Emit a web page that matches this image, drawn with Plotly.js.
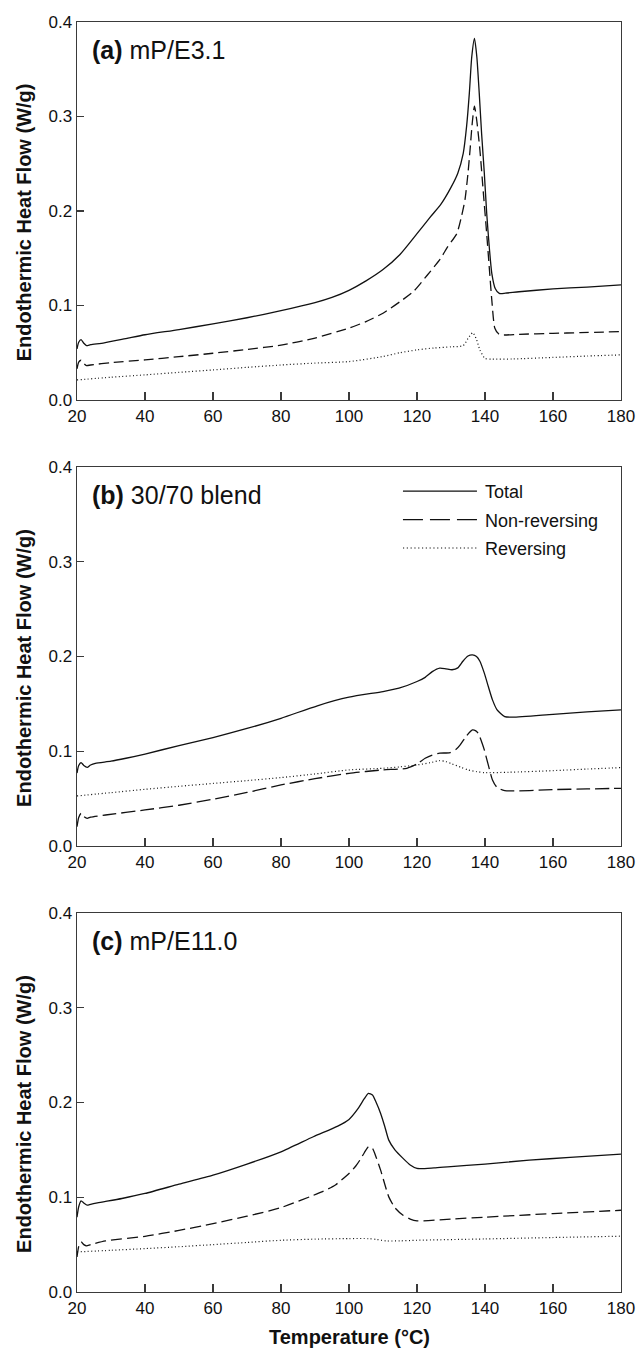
<!DOCTYPE html>
<html>
<head>
<meta charset="utf-8">
<script src="https://cdn.plot.ly/plotly-3.0.1.min.js"></script>
<style>
  html, body { margin: 0; padding: 0; background: #fff; }
  #chart { width: 638px; height: 1350px; }
</style>
</head>
<body>
<div id="chart"></div>
<script>
// ---------- Data (temperature °C, heat flow W/g) ----------
// Panel (a) mP/E3.1
const aTotalT = [20.0,20.5,21.2,22.0,22.8,24,28,35,40,50,60,70,80,90,95,100,105,110,115,120,124,127,130,132,133.6,134.6,135.4,136.1,136.9,137.6,138.3,139.0,139.8,140.5,141.3,142.0,143.0,144.2,146,150,160,170,180];
const aTotalQ = [0.054,0.061,0.0638,0.060,0.0575,0.0585,0.0605,0.0655,0.069,0.0745,0.0805,0.087,0.0945,0.103,0.1085,0.116,0.126,0.138,0.154,0.176,0.194,0.207,0.225,0.240,0.261,0.290,0.325,0.363,0.3827,0.363,0.325,0.282,0.240,0.1976,0.160,0.134,0.118,0.1128,0.113,0.1145,0.1175,0.1195,0.1218];
const aNonRevT = [20.0,20.5,21.2,22.0,22.8,24,30,40,50,60,70,80,90,100,105,110,115,119,123,126.8,129,131.7,133,134.1,135.0,135.6,136.3,136.9,137.6,138.5,139.5,140.5,141.3,142.0,142.9,144,145.4,150,160,168,180];
const aNonRevQ = [0.033,0.040,0.042,0.0385,0.0364,0.037,0.0395,0.0424,0.0458,0.0494,0.0535,0.058,0.0655,0.076,0.083,0.0918,0.104,0.115,0.132,0.149,0.162,0.176,0.193,0.2116,0.240,0.2646,0.295,0.311,0.295,0.2646,0.220,0.176,0.138,0.1058,0.0758,0.070,0.0688,0.0695,0.0705,0.0712,0.0724];
const aRevT = [20,30,40,50,60,70,80,90,100,110,115,120,125,130,133.6,135,136.4,137.5,138.5,140,142,148.3,160,170,180];
const aRevQ = [0.0212,0.024,0.0265,0.0292,0.0318,0.0345,0.037,0.039,0.0406,0.046,0.050,0.053,0.055,0.0562,0.0575,0.065,0.0712,0.064,0.0529,0.044,0.0432,0.0434,0.045,0.0465,0.0477];

// Panel (b) 30/70 blend
const bTotalT = [20.0,20.5,21.2,22.0,23.0,24,25.4,30,34.4,40,50,60,70,80,90.7,100,110,114.7,120,122.4,124.5,126.7,128.5,130.3,132.0,133.5,135.0,136.3,137.5,138.5,139.8,141,142.2,143.5,145.8,148.2,160,170,180];
const bTotalQ = [0.077,0.085,0.088,0.085,0.083,0.0855,0.0873,0.0895,0.0926,0.097,0.106,0.1144,0.124,0.1348,0.148,0.157,0.163,0.1665,0.1736,0.178,0.184,0.1877,0.187,0.186,0.188,0.195,0.2005,0.2017,0.200,0.195,0.1824,0.168,0.1542,0.144,0.1366,0.1359,0.139,0.1415,0.1436];
const bNonRevT = [20.0,20.5,21.2,22.0,23.0,24,28.4,40,50,60,70,80,90,100,110,117,120,122.4,124.5,126.7,129.7,131.5,132.7,134.5,136.3,137.3,138,139,139.8,141,142.2,143.5,145.8,160,170,180];
const bNonRevQ = [0.0204,0.030,0.0345,0.031,0.0292,0.0305,0.0327,0.038,0.043,0.0493,0.0565,0.0644,0.071,0.0767,0.0803,0.082,0.0866,0.0926,0.096,0.0979,0.0986,0.102,0.1067,0.116,0.1225,0.1215,0.119,0.110,0.1014,0.085,0.0697,0.062,0.0584,0.0595,0.0602,0.0609];
const bRevT = [20,30,40,50,60,70,80,90,100,110,115,120,124,126.7,128.5,130.3,133,135,137.5,139.8,147,160,170,180];
const bRevQ = [0.0528,0.0563,0.0598,0.063,0.066,0.069,0.0722,0.076,0.0803,0.082,0.0835,0.0855,0.088,0.0901,0.089,0.0866,0.083,0.0803,0.0785,0.0774,0.0778,0.0795,0.0812,0.0827];

// Panel (c) mP/E11.0
const cTotalT = [20.0,20.5,21.2,22.0,23.0,24,26,33.2,40,50,60,70,80,89.5,96.7,100,102.7,104.5,105.7,106.9,108,109.3,110.5,111.7,113.5,115.9,118,120,125,129,140,153,165,180];
const cTotalQ = [0.079,0.090,0.0962,0.094,0.0916,0.0925,0.094,0.0987,0.104,0.1138,0.1233,0.135,0.148,0.1639,0.1751,0.1822,0.1938,0.204,0.2097,0.2079,0.200,0.1885,0.175,0.1603,0.150,0.141,0.134,0.1304,0.131,0.1321,0.135,0.1392,0.142,0.1455];
const cNonRevT = [20.0,20.5,21.2,22.0,22.8,24,28.4,40,50,60,70,80,92,96,100,102,103.2,104.5,105.7,106.9,108,109.3,110.5,111.7,113.5,115.9,118,120,130,140,160,180];
const cNonRevQ = [0.037,0.048,0.0529,0.050,0.0486,0.050,0.0539,0.0588,0.065,0.0722,0.080,0.0891,0.1057,0.113,0.1251,0.133,0.1392,0.147,0.1533,0.1515,0.142,0.1286,0.114,0.1004,0.089,0.081,0.077,0.0751,0.077,0.079,0.0828,0.0863];
const cRevT = [20,30,40,50,60,70,80,90,100,105.7,108,111,115,120,140,160,180];
const cRevQ = [0.0423,0.044,0.0458,0.0478,0.050,0.0523,0.0546,0.0558,0.0564,0.0564,0.0555,0.0539,0.054,0.0546,0.056,0.0575,0.0589];

const seriesNames = ['Total', 'Non-reversing', 'Reversing'];
const panelBold = ['(a)', '(b)', '(c)'];
const panelText = ['mP/E3.1', '30/70 blend', 'mP/E11.0'];
const xTickVals = [20, 40, 60, 80, 100, 120, 140, 160, 180];
const yTickVals = [0.0, 0.1, 0.2, 0.3, 0.4];
const xTitle = 'Temperature (°C)';
const yTitle = 'Endothermic Heat Flow (W/g)';

// ---------- Styling ----------
const FONT = 'Liberation Sans, Arial, Helvetica, sans-serif';
const INK = '#111';
const AXC = '#3a3a3a';

const panels = [
  {xa: 'x',  ya: 'y',  data: [[aTotalT, aTotalQ], [aNonRevT, aNonRevQ], [aRevT, aRevQ]], dash: '10px,5px', legend: false},
  {xa: 'x2', ya: 'y2', data: [[bTotalT, bTotalQ], [bNonRevT, bNonRevQ], [bRevT, bRevQ]], dash: '14px,5px', legend: true},
  {xa: 'x3', ya: 'y3', data: [[cTotalT, cTotalQ], [cNonRevT, cNonRevQ], [cRevT, cRevQ]], dash: '11px,5px', legend: false}
];

const traces = [];
panels.forEach(function (p) {
  p.data.forEach(function (d, i) {
    const line = i === 0 ? {color: INK, width: 1.3, dash: 'solid'}
               : i === 1 ? {color: INK, width: 1.3, dash: p.dash}
               : {color: INK, width: 1.2, dash: '1px,2.5px'};
    line.shape = 'spline';
    line.smoothing = 0.6;
    traces.push({
      type: 'scatter', mode: 'lines',
      x: d[0], y: d[1],
      xaxis: p.xa, yaxis: p.ya,
      name: seriesNames[i],
      legendgroup: p.legend ? 'g' + i : undefined,
      showlegend: p.legend,
      line: line,
      hoverinfo: 'skip'
    });
  });
});

function xAxis(anchor) {
  return {
    anchor: anchor, domain: [0, 1], range: [20, 180],
    tickmode: 'array', tickvals: xTickVals,
    ticks: 'inside', ticklen: 8, tickwidth: 1.2, tickcolor: AXC,
    showline: true, mirror: true, linecolor: AXC, linewidth: 1.4,
    showgrid: false, zeroline: false,
    tickfont: {family: FONT, size: 17, color: INK}
  };
}
function yAxis(anchor, dom) {
  return {
    anchor: anchor, domain: dom, range: [0, 0.4],
    tickmode: 'array', tickvals: yTickVals, tickformat: '.1f',
    ticks: 'inside', ticklen: 7, tickwidth: 1.2, tickcolor: AXC,
    showline: true, mirror: true, linecolor: AXC, linewidth: 1.4,
    showgrid: false, zeroline: false,
    tickfont: {family: FONT, size: 17, color: INK}
  };
}

const annotations = [];
['', '2', '3'].forEach(function (s, i) {
  annotations.push({
    xref: 'x' + s + ' domain', yref: 'y' + s + ' domain',
    x: 0.024, y: 0.926, xanchor: 'left', yanchor: 'middle',
    text: '<b>' + panelBold[i] + '</b> ' + panelText[i],
    showarrow: false, font: {family: FONT, size: 25, color: INK}
  });
  annotations.push({
    xref: 'paper', yref: 'y' + s + ' domain',
    x: -0.0974, y: 0.47, xanchor: 'center', yanchor: 'middle',
    text: '<b>' + yTitle + '</b>', textangle: -90,
    showarrow: false, font: {family: FONT, size: 20, color: INK}
  });
});
annotations.push({
  xref: 'x3 domain', yref: 'paper', x: 0.5, y: -0.0354,
  xanchor: 'center', yanchor: 'middle',
  text: '<b>' + xTitle + '</b>', showarrow: false,
  font: {family: FONT, size: 20, color: INK}
});

const layout = {
  width: 638, height: 1350,
  margin: {l: 77, r: 17, t: 22, b: 58, pad: 0},
  paper_bgcolor: '#fff', plot_bgcolor: '#fff',
  font: {family: FONT, color: INK},
  xaxis: xAxis('y'), yaxis: yAxis('x', [0.7024, 1]),
  xaxis2: xAxis('y2'), yaxis2: yAxis('x2', [0.3512, 0.6496]),
  xaxis3: xAxis('y3'), yaxis3: yAxis('x3', [0, 0.2984]),
  showlegend: true,
  legend: {
    x: 0.59, y: 0.6449, xanchor: 'left', yanchor: 'top',
    bgcolor: 'rgba(0,0,0,0)', borderwidth: 0,
    font: {family: FONT, size: 18, color: INK},
    itemwidth: 77, tracegroupgap: 2
  },
  annotations: annotations
};

Plotly.newPlot('chart', traces, layout, {staticPlot: true, displayModeBar: false}).then(function (gd) {
  // lengthen the legend line samples to match the reference
  const dashes = ['none', '20,7', '1.2,2.6'];
  gd.querySelectorAll('.legend .traces').forEach(function (t, i) {
    t.querySelectorAll('path.js-line').forEach(function (p) {
      p.setAttribute('d', 'M5,0h74');
      p.style.strokeDasharray = dashes[i] || 'none';
    });
  });
});
</script>
</body>
</html>
